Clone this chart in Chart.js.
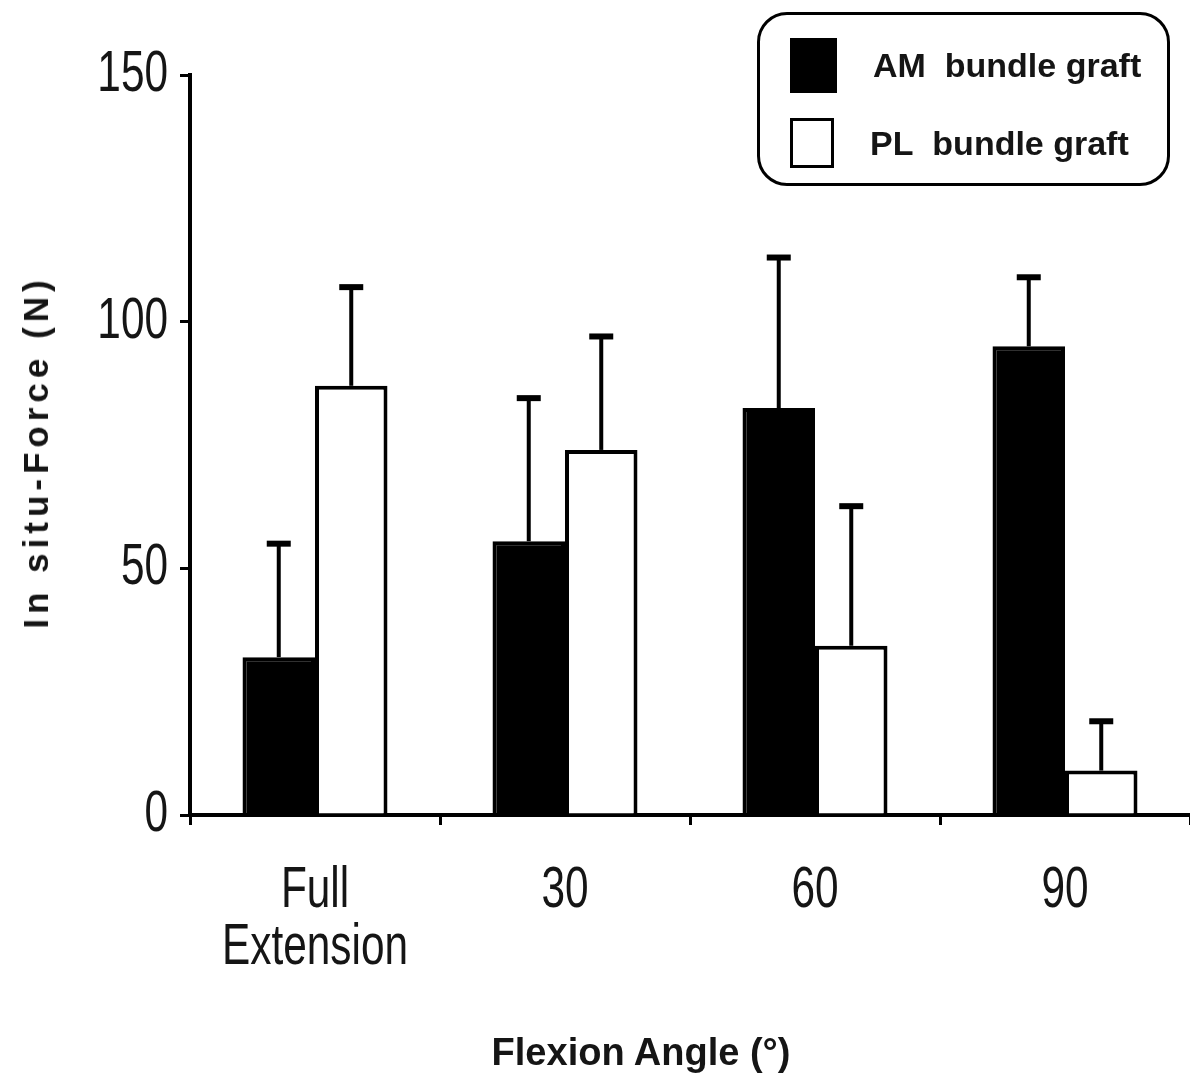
<!DOCTYPE html>
<html>
<head>
<meta charset="utf-8">
<script src="https://cdn.jsdelivr.net/npm/chart.js@4/dist/chart.umd.min.js"></script>
<style>
    html, body { margin: 0; padding: 0; background: #fff; }
    #wrap { position: relative; width: 1190px; height: 1084px; overflow: hidden; }
    #legendBox {
        position: absolute; left: 757px; top: 12px; width: 413px; height: 174px;
        border: 3px solid #000; border-radius: 30px; box-sizing: border-box;
        font-family: 'Liberation Sans', Arial, sans-serif; font-weight: bold; font-size: 34px; color: #151515;
    }
    .item { position: absolute; left: 30px; display: flex; align-items: center; }
    .swatch { box-sizing: border-box; border: 3px solid #000; margin-right: 36px; }
    .axisTitle {
        position: absolute; font-family: 'Liberation Sans', Arial, sans-serif; font-weight: bold;
        color: #151515; white-space: nowrap;
    }
    #xTitle { left: 641px; top: 1052px; font-size: 38px; transform: translate(-50%, -50%); }
    #yTitle { left: 36px; top: 452px; font-size: 35px; letter-spacing: 5px; transform: translate(-50%, -50%) rotate(-90deg); }
</style>
</head>
<body>
<div id="wrap">
    <canvas id="chart" width="1190" height="1084"></canvas>
    <div id="legendBox">
        <div class="item" style="top:23px"><div class="swatch" style="width:47px;height:55px;background:#000"></div><span>AM&nbsp; bundle graft</span></div>
        <div class="item" style="top:103px"><div class="swatch" style="width:44px;height:50px;background:#fff"></div><span>PL&nbsp; bundle graft</span></div>
    </div>
    <div id="xTitle" class="axisTitle">Flexion Angle (°)</div>
    <div id="yTitle" class="axisTitle">In situ-Force (N)</div>
</div>
<script>
// Categories and values
const angleLabels = [['Full', 'Extension'], '30', '60', '90'];
const amForce = [32, 55.5, 82.5, 95];
const amError = [23, 29, 30.5, 14];
const plForce = [87, 74, 34.3, 9];
const plError = [20, 23, 28.3, 10];
const yTicks = [0, 50, 100, 150];

// the original uses a very condensed sans face, so labels get squeezed horizontally
const tickFont = "58px 'Liberation Sans', Arial, sans-serif";
const squeeze = 0.73;

// Draws the upward error bars with a cap on every bar
const errorBarPlugin = {
    id: 'errorBars',
    afterDatasetsDraw(chart) {
        const ctx = chart.ctx;
        const yScale = chart.scales.y;
        chart.data.datasets.forEach((ds, i) => {
            const meta = chart.getDatasetMeta(i);
            meta.data.forEach((bar, j) => {
                const top = yScale.getPixelForValue(ds.data[j] + ds.errors[j]);
                ctx.save();
                ctx.strokeStyle = '#000';
                ctx.lineWidth = 4;
                ctx.beginPath();
                ctx.moveTo(bar.x, bar.y);
                ctx.lineTo(bar.x, top);
                ctx.stroke();
                ctx.lineWidth = 6;
                ctx.beginPath();
                ctx.moveTo(bar.x - 12, top);
                ctx.lineTo(bar.x + 12, top);
                ctx.stroke();
                ctx.restore();
            });
        });
    }
};

// Tick labels, placed through the scales but drawn condensed
const narrowTicksPlugin = {
    id: 'narrowTicks',
    afterDraw(chart) {
        const ctx = chart.ctx;
        const x = chart.scales.x;
        const y = chart.scales.y;
        ctx.save();
        ctx.font = tickFont;
        ctx.fillStyle = '#151515';
        ctx.textBaseline = 'middle';

        ctx.textAlign = 'right';
        y.ticks.forEach((t, i) => {
            ctx.save();
            ctx.translate(y.right - 22, y.getPixelForTick(i));
            ctx.scale(squeeze, 1);
            ctx.fillText(String(t.value), 0, 0);
            ctx.restore();
        });

        ctx.textAlign = 'center';
        angleLabels.forEach((lab, i) => {
            const lines = Array.isArray(lab) ? lab : [lab];
            lines.forEach((line, k) => {
                ctx.save();
                ctx.translate(x.getPixelForTick(i), x.top + 76 + k * 57);
                ctx.scale(squeeze, 1);
                ctx.fillText(line, 0, 0);
                ctx.restore();
            });
        });
        ctx.restore();
    }
};

const ctx = document.getElementById('chart').getContext('2d');
new Chart(ctx, {
    type: 'bar',
    data: {
        labels: angleLabels,
        datasets: [{
            label: 'AM bundle graft',
            data: amForce,
            errors: amError,
            backgroundColor: '#000',
            borderColor: '#000',
            borderWidth: 4
        }, {
            label: 'PL bundle graft',
            data: plForce,
            errors: plError,
            backgroundColor: '#fff',
            borderColor: '#000',
            borderWidth: 4
        }]
    },
    options: {
        responsive: false,
        animation: false,
        layout: { padding: { top: 75, right: 0, left: 0, bottom: 0 } },
        datasets: { bar: { categoryPercentage: 0.58, barPercentage: 1 } },
        plugins: {
            legend: { display: false },
            tooltip: { enabled: false }
        },
        scales: {
            x: {
                grid: { display: true, drawOnChartArea: false, offset: true, tickLength: 10, lineWidth: 3, color: '#000' },
                border: { display: true, color: '#000', width: 4 },
                ticks: { display: false },
                afterFit(scale) { scale.height = 1084 - 815; }
            },
            y: {
                min: 0,
                max: 150,
                afterBuildTicks(scale) { scale.ticks = yTicks.map(v => ({ value: v })); },
                grid: { display: true, drawOnChartArea: false, tickLength: 10, lineWidth: 3, color: '#000' },
                border: { display: true, color: '#000', width: 4 },
                ticks: { display: false },
                afterFit(scale) { scale.width = 190; }
            }
        }
    },
    plugins: [errorBarPlugin, narrowTicksPlugin]
});
</script>
</body>
</html>
